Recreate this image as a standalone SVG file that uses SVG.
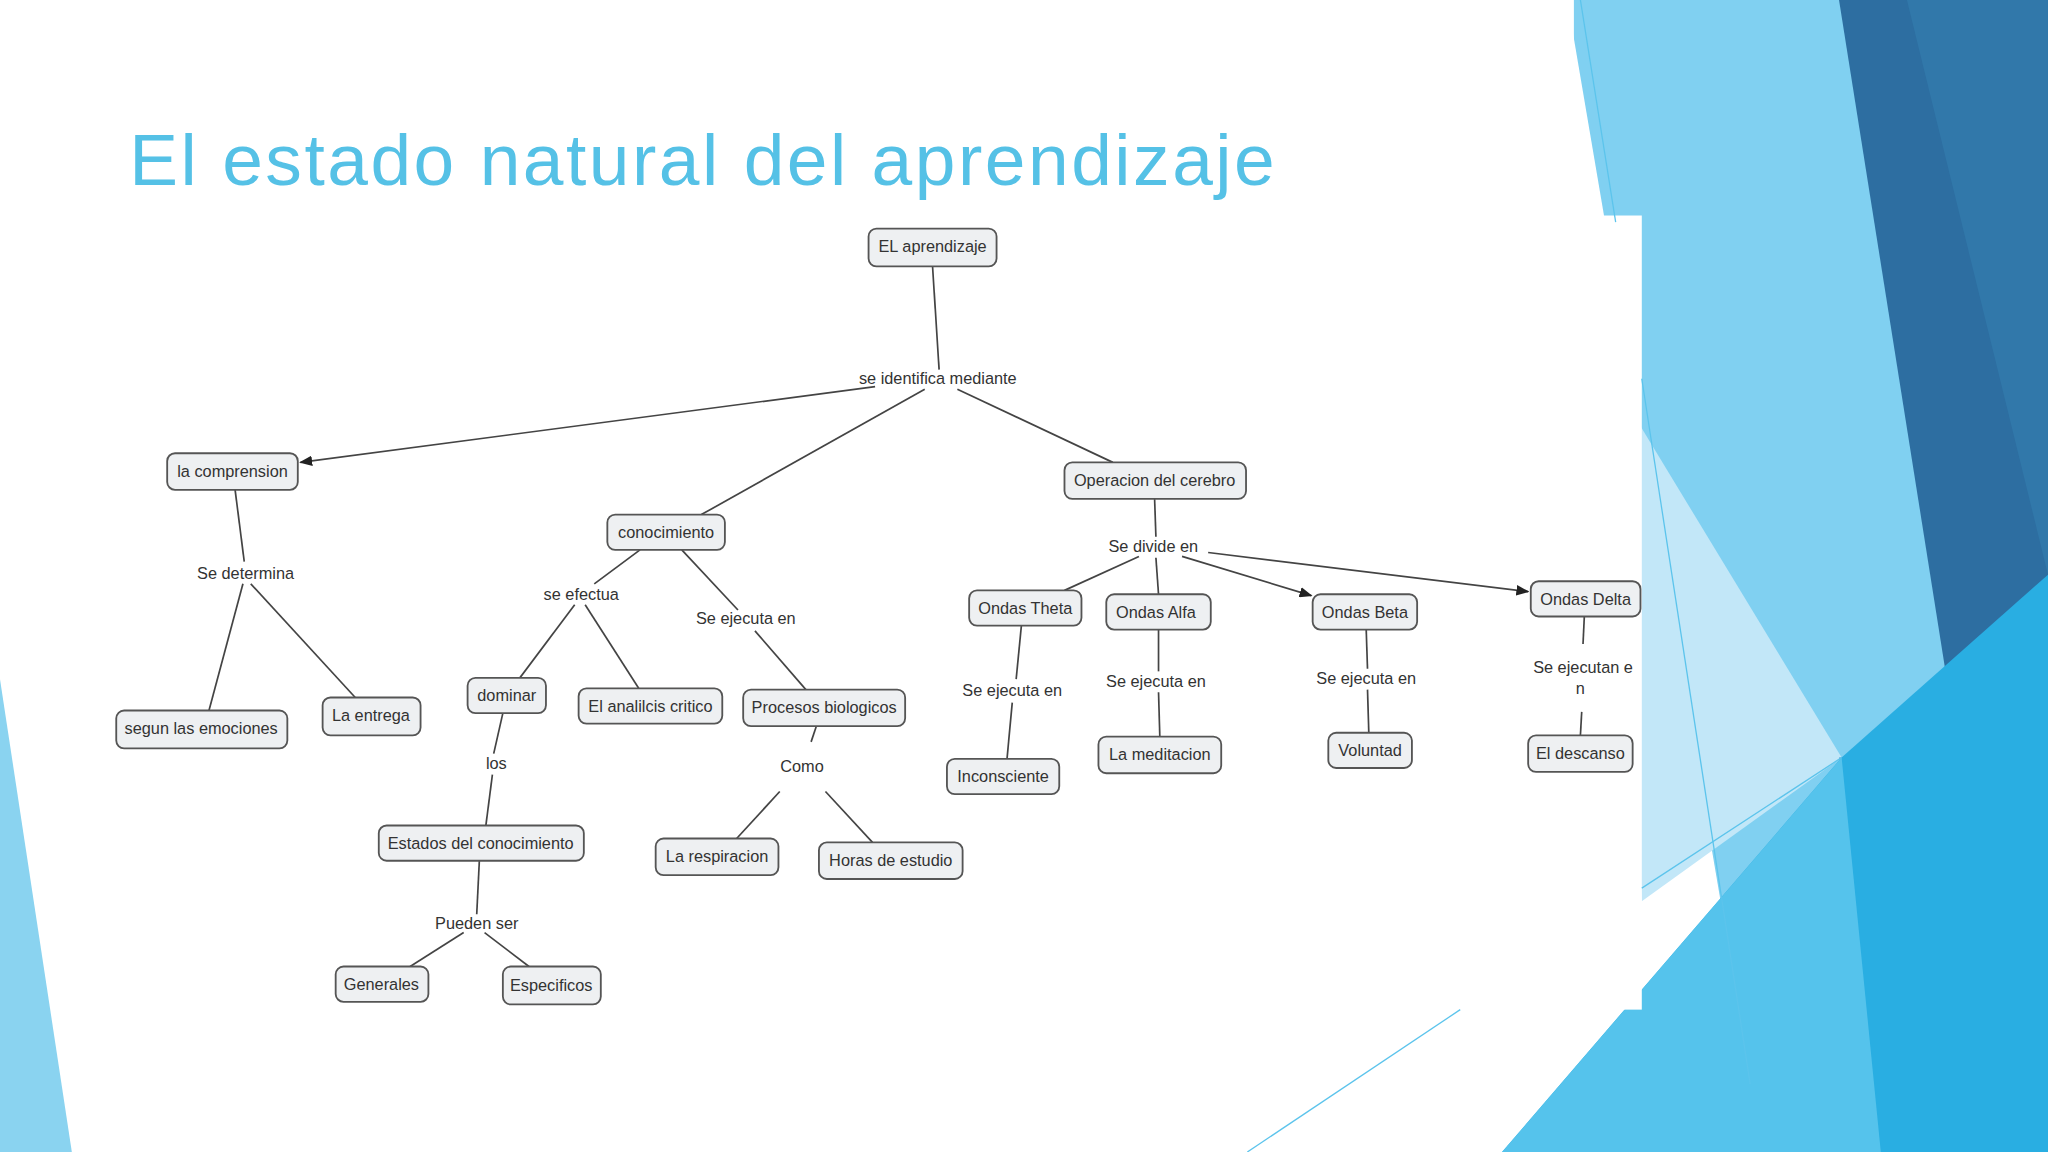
<svg xmlns="http://www.w3.org/2000/svg" width="2048" height="1152" viewBox="0 0 2048 1152">
<defs>
<style>
.n rect{fill:#eef0f2;stroke:#555;stroke-width:1.4}
text{font-family:"Liberation Sans","DejaVu Sans",sans-serif;font-size:12.5px;fill:#333;text-anchor:middle}
.c line{stroke:#444;stroke-width:1.3}
</style>
<marker id="a" markerWidth="10" markerHeight="8" refX="9" refY="4" orient="auto" markerUnits="userSpaceOnUse"><path d="M0,0 L10,4 L0,8z" fill="#222"/></marker>
</defs>
<rect width="2048" height="1152" fill="#fff"/>
<g transform="scale(1.30612)">
<polygon points="1200,0 1568,0 1568,882 1350,882" fill="#80d0f1"/>
<polygon points="1240,300 1410,580 1257,690" fill="#c2e7f8"/>
<polygon points="1408,0 1568,0 1568,460 1500,580" fill="#2d6ea1"/>
<polygon points="1460,0 1568,0 1568,440" fill="#3178aa"/>
<polygon points="1408,580 1500,580 1460,760" fill="#3a8fd0"/>
<polygon points="1150,882 1410,580 1568,440 1568,882" fill="#29aee2"/>
<polygon points="1150,882 1410,580 1440,882" fill="#55c3ec"/>
<rect x="0" y="165" width="1257" height="608" fill="#fff"/>
<rect x="0" y="0" width="1205" height="165" fill="#fff"/>
<polygon points="0,520 55,882 0,882" fill="#8ad3f0"/>
<g stroke="#5cc4ec" stroke-width="1" fill="none">
<line x1="1210" y1="0" x2="1237" y2="170"/>
<line x1="1257" y1="290" x2="1340" y2="830"/>
<line x1="1257" y1="680" x2="1410" y2="580"/>
<line x1="955" y1="882" x2="1118" y2="773"/>
</g>
<text x="99" y="142" style="font-size:56px;fill:#55c1e6;text-anchor:start" textLength="877">El estado natural del aprendizaje</text>

<g class="c">
<line x1="714" y1="204" x2="719" y2="283"/>
<line x1="670" y1="296" x2="230" y2="354" marker-end="url(#a)"/>
<line x1="708" y1="298" x2="537" y2="394"/>
<line x1="733" y1="298" x2="852" y2="354"/>
<line x1="180" y1="375" x2="187" y2="430"/>
<line x1="186" y1="447" x2="160" y2="544"/>
<line x1="192" y1="447" x2="272" y2="534"/>
<line x1="490" y1="421" x2="455" y2="447"/>
<line x1="522" y1="421" x2="565" y2="467"/>
<line x1="440" y1="463" x2="398" y2="519"/>
<line x1="448" y1="463" x2="489" y2="527"/>
<line x1="578" y1="483" x2="617" y2="528"/>
<line x1="385" y1="546" x2="378" y2="577"/>
<line x1="377" y1="593" x2="372" y2="632"/>
<line x1="367" y1="659" x2="365" y2="700"/>
<line x1="355" y1="714" x2="314" y2="740"/>
<line x1="371" y1="714" x2="405" y2="740"/>
<line x1="625" y1="556" x2="621" y2="568"/>
<line x1="597" y1="606" x2="564" y2="642"/>
<line x1="632" y1="606" x2="668" y2="645"/>
<line x1="884" y1="382" x2="885" y2="411"/>
<line x1="872" y1="426" x2="815" y2="452"/>
<line x1="885" y1="427" x2="887" y2="455"/>
<line x1="905" y1="426" x2="1004" y2="456" marker-end="url(#a)"/>
<line x1="925" y1="423" x2="1170" y2="453" marker-end="url(#a)"/>
<line x1="782" y1="479" x2="778" y2="520"/>
<line x1="775" y1="538" x2="771" y2="581"/>
<line x1="887" y1="482" x2="887" y2="514"/>
<line x1="887" y1="530" x2="888" y2="564"/>
<line x1="1046" y1="482" x2="1047" y2="512"/>
<line x1="1047" y1="528" x2="1048" y2="561"/>
<line x1="1213" y1="472" x2="1212" y2="493"/>
<line x1="1211" y1="545" x2="1210" y2="563"/>
</g>
<g id="labels">
<text x="718" y="294">se identifica mediante</text>
<text x="188" y="443">Se determina</text>
<text x="445" y="459">se efectua</text>
<text x="571" y="478">Se ejecuta en</text>
<text x="380" y="589">los</text>
<text x="365" y="711">Pueden ser</text>
<text x="614" y="591">Como</text>
<text x="883" y="423">Se divide en</text>
<text x="775" y="533">Se ejecuta en</text>
<text x="885" y="526">Se ejecuta en</text>
<text x="1046" y="524">Se ejecuta en</text>
<text x="1212" y="515">Se ejecutan e</text>
<text x="1210" y="531">n</text>
</g>
<g id="n1" class="n"><rect x="665" y="175" width="98" height="29" rx="6"/><text x="714" y="193">EL aprendizaje</text></g>
<g id="n2" class="n"><rect x="128" y="347" width="100" height="28" rx="6"/><text x="178" y="365">la comprension</text></g>
<g id="n3" class="n"><rect x="465" y="394" width="90" height="27" rx="6"/><text x="510" y="412">conocimiento</text></g>
<g id="n4" class="n"><rect x="815" y="354" width="139" height="28" rx="6"/><text x="884" y="372">Operacion del cerebro</text></g>
<g id="n5" class="n"><rect x="89" y="544" width="131" height="29" rx="6"/><text x="154" y="562">segun las emociones</text></g>
<g id="n6" class="n"><rect x="247" y="534" width="75" height="29" rx="6"/><text x="284" y="552">La entrega</text></g>
<g id="n7" class="n"><rect x="358" y="519" width="60" height="27" rx="6"/><text x="388" y="537">dominar</text></g>
<g id="n8" class="n"><rect x="443" y="527" width="110" height="27" rx="6"/><text x="498" y="545">El analilcis critico</text></g>
<g id="n9" class="n"><rect x="569" y="528" width="124" height="28" rx="6"/><text x="631" y="546">Procesos biologicos</text></g>
<g id="n10" class="n"><rect x="290" y="632" width="157" height="27" rx="6"/><text x="368" y="650">Estados del conocimiento</text></g>
<g id="n11" class="n"><rect x="257" y="740" width="71" height="27" rx="6"/><text x="292" y="758">Generales</text></g>
<g id="n12" class="n"><rect x="385" y="740" width="75" height="29" rx="6"/><text x="422" y="759">Especificos</text></g>
<g id="n13" class="n"><rect x="502" y="642" width="94" height="28" rx="6"/><text x="549" y="660">La respiracion</text></g>
<g id="n14" class="n"><rect x="627" y="645" width="110" height="28" rx="6"/><text x="682" y="663">Horas de estudio</text></g>
<g id="n15" class="n"><rect x="742" y="452" width="86" height="27" rx="6"/><text x="785" y="470">Ondas Theta</text></g>
<g id="n16" class="n"><rect x="847" y="455" width="80" height="27" rx="6"/><text x="885" y="473">Ondas Alfa</text></g>
<g id="n17" class="n"><rect x="1005" y="455" width="80" height="27" rx="6"/><text x="1045" y="473">Ondas Beta</text></g>
<g id="n18" class="n"><rect x="1172" y="445" width="84" height="27" rx="6"/><text x="1214" y="463">Ondas Delta</text></g>
<g id="n19" class="n"><rect x="725" y="581" width="86" height="27" rx="6"/><text x="768" y="599">Inconsciente</text></g>
<g id="n20" class="n"><rect x="841" y="564" width="94" height="28" rx="6"/><text x="888" y="582">La meditacion</text></g>
<g id="n21" class="n"><rect x="1017" y="561" width="64" height="27" rx="6"/><text x="1049" y="579">Voluntad</text></g>
<g id="n22" class="n"><rect x="1170" y="563" width="80" height="28" rx="6"/><text x="1210" y="581">El descanso</text></g>
</g>
</svg>
